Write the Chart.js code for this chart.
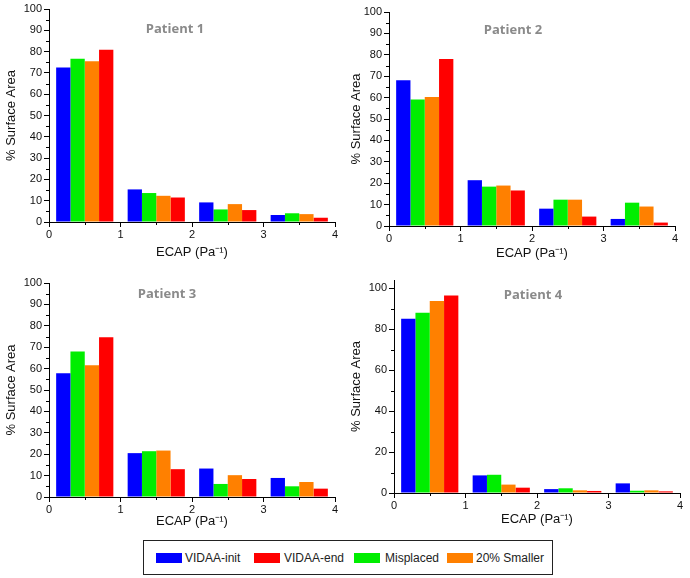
<!DOCTYPE html>
<html>
<head>
<meta charset="utf-8">
<script src="https://cdn.jsdelivr.net/npm/chart.js@4.4.1/dist/chart.umd.min.js"></script>
<style>
  html, body { margin:0; padding:0; background:#fff; }
  #wrap { position:relative; width:690px; height:578px; overflow:hidden; font-family:"Liberation Sans", Arial, sans-serif; }
  canvas { position:absolute; }
  .ptitle { position:absolute; font:bold 13px "Open Sans", sans-serif; color:#8a8a8a; transform:translate(-50%,-50%); white-space:nowrap; }
  #legend { position:absolute; left:143px; top:540px; width:408px; height:33px; border:1.5px solid #222; }
  #legend .sw { position:absolute; top:12px; width:26px; height:10px; }
  #legend .lt { position:absolute; top:9px; font-size:12px; color:#222; line-height:16px; }
</style>
</head>
<body>
<div id="wrap">
  <canvas id="c1"></canvas>
  <canvas id="c2"></canvas>
  <canvas id="c3"></canvas>
  <canvas id="c4"></canvas>
  <div class="ptitle" style="left:175px;top:28px">Patient 1</div>
  <div class="ptitle" style="left:513px;top:29px">Patient 2</div>
  <div class="ptitle" style="left:167px;top:293px">Patient 3</div>
  <div class="ptitle" style="left:533px;top:294px">Patient 4</div>
  <div id="legend">
    <div class="sw" style="left:12px;background:#0000ff"></div><div class="lt" style="left:41px">VIDAA-init</div>
    <div class="sw" style="left:110px;background:#ff0000"></div><div class="lt" style="left:140px">VIDAA-end</div>
    <div class="sw" style="left:210px;background:#00ee00"></div><div class="lt" style="left:241px">Misplaced</div>
    <div class="sw" style="left:303px;background:#ff8000"></div><div class="lt" style="left:332px">20% Smaller</div>
  </div>
</div>
<script>
// Data: ECAP bins 0-1, 1-2, 2-3, 3-4
const groupLabels = ['0-1', '1-2', '2-3', '3-4'];
const xTicks = [0, 1, 2, 3, 4];

const p1Init = [72.5, 15.3, 9.2, 3.3];
const p1End = [80.9, 11.5, 5.6, 2.0];
const p1Misplaced = [76.6, 13.6, 5.9, 4.1];
const p1Smaller = [75.5, 12.3, 8.4, 3.7];

const p2Init = [68.1, 21.4, 8.1, 3.3];
const p2End = [78.0, 16.6, 4.4, 1.6];
const p2Misplaced = [59.1, 18.4, 12.3, 10.9];
const p2Smaller = [60.3, 18.9, 12.3, 9.1];

const p3Init = [57.8, 20.5, 13.3, 8.9];
const p3End = [74.7, 13.0, 8.4, 3.9];
const p3Misplaced = [68.0, 21.4, 6.1, 5.0];
const p3Smaller = [61.6, 21.7, 10.2, 7.0];

const p4Init = [85.1, 8.6, 1.9, 4.7];
const p4End = [96.4, 2.6, 1.0, 0.8];
const p4Misplaced = [88.0, 8.9, 2.3, 1.1];
const p4Smaller = [93.8, 4.1, 1.3, 1.3];

const colInit = '#0000ff', colEnd = '#ff0000', colMis = '#00ee00', colSmall = '#ff8000';
const txtFont = '"Liberation Sans", Arial, sans-serif';

// small minor ticks drawn on the axes, using the chart's own scales
const minorTicks = {
  id: 'minorTicks',
  afterDraw(chart, args, opts) {
    const ctx = chart.ctx, xs = chart.scales.x2, ys = chart.scales.y;
    ctx.save();
    ctx.strokeStyle = '#000'; ctx.lineWidth = 1;
    ctx.beginPath();
    for (let v = opts.xStep; v < xs.max; v += opts.xStep * 2) {
      const px = Math.round(xs.getPixelForValue(v)) + 0.5;
      ctx.moveTo(px, xs.top); ctx.lineTo(px, xs.top + 3);
    }
    for (let v = opts.yStep; v < ys.max; v += opts.yStep * 2) {
      const py = Math.round(ys.getPixelForValue(v)) + 0.5;
      ctx.moveTo(ys.right, py); ctx.lineTo(ys.right - 3, py);
    }
    ctx.stroke();
    ctx.restore();
  }
};

function makePanel(id, p, init, end, mis, small){
  const cv = document.getElementById(id);
  cv.width = p.w; cv.height = p.h;
  cv.style.left = p.left + 'px'; cv.style.top = p.top + 'px';
  new Chart(cv, {
    type: 'bar',
    data: {
      labels: groupLabels,
      datasets: [
        {label:'VIDAA-init', data:init, backgroundColor:colInit},
        {label:'Misplaced', data:mis, backgroundColor:colMis},
        {label:'20% Smaller', data:small, backgroundColor:colSmall},
        {label:'VIDAA-end', data:end, backgroundColor:colEnd}
      ]
    },
    options: {
      responsive:false, animation:false,
      layout:{padding:{left:0, top:p.plotTop - p.top, right:p.left + p.w - p.plotRight, bottom:0}},
      datasets:{bar:{barPercentage:1, categoryPercentage:0.8, borderWidth:0}},
      plugins:{legend:{display:false}, tooltip:{enabled:false}, minorTicks:{xStep:0.5, yStep:p.yMinor}},
      scales:{
        x:{display:false},
        x2:{
          type:'linear', position:'bottom', min:0, max:4, offset:false,
          afterFit: s => { s.height = p.top + p.h - p.plotBottom; },
          afterBuildTicks: s => { s.ticks = xTicks.map(v => ({value:v})); },
          ticks:{font:{family:txtFont, size:11}, color:'#111', padding:1, maxRotation:0},
          grid:{drawOnChartArea:false, offset:false, tickLength:5, color:'#000'},
          border:{color:'#000', width:1},
          title:{display:true, text:'ECAP (Pa⁻¹)', font:{family:txtFont, size:13}, color:'#111', padding:0}
        },
        y:{
          min:0, max:p.yMax,
          afterFit: s => { s.width = p.plotLeft - p.left; },
          ticks:{stepSize:p.yStep, includeBounds:false, font:{family:txtFont, size:11}, color:'#111', padding:2},
          grid:{drawOnChartArea:false, tickLength:5, color:'#000'},
          border:{color:'#000', width:1},
          title:{display:true, text:'% Surface Area', font:{family:txtFont, size:13}, color:'#111', padding:{top:4, bottom:0}}
        }
      }
    },
    plugins:[minorTicks]
  });
}

makePanel('c1', {left:0, top:0, w:345, h:260, plotLeft:49, plotTop:9, plotRight:335, plotBottom:222, yMax:100, yStep:10, yMinor:5},
  p1Init, p1End, p1Misplaced, p1Smaller);
makePanel('c2', {left:345, top:0, w:345, h:261, plotLeft:389, plotTop:12, plotRight:675, plotBottom:226, yMax:100, yStep:10, yMinor:5},
  p2Init, p2End, p2Misplaced, p2Smaller);
makePanel('c3', {left:0, top:262, w:345, h:267, plotLeft:49, plotTop:283, plotRight:335, plotBottom:497, yMax:100, yStep:10, yMinor:5},
  p3Init, p3End, p3Misplaced, p3Smaller);
makePanel('c4', {left:345, top:262, w:345, h:265, plotLeft:394, plotTop:280, plotRight:680, plotBottom:493, yMax:104, yStep:20, yMinor:10},
  p4Init, p4End, p4Misplaced, p4Smaller);
</script>
</body>
</html>
